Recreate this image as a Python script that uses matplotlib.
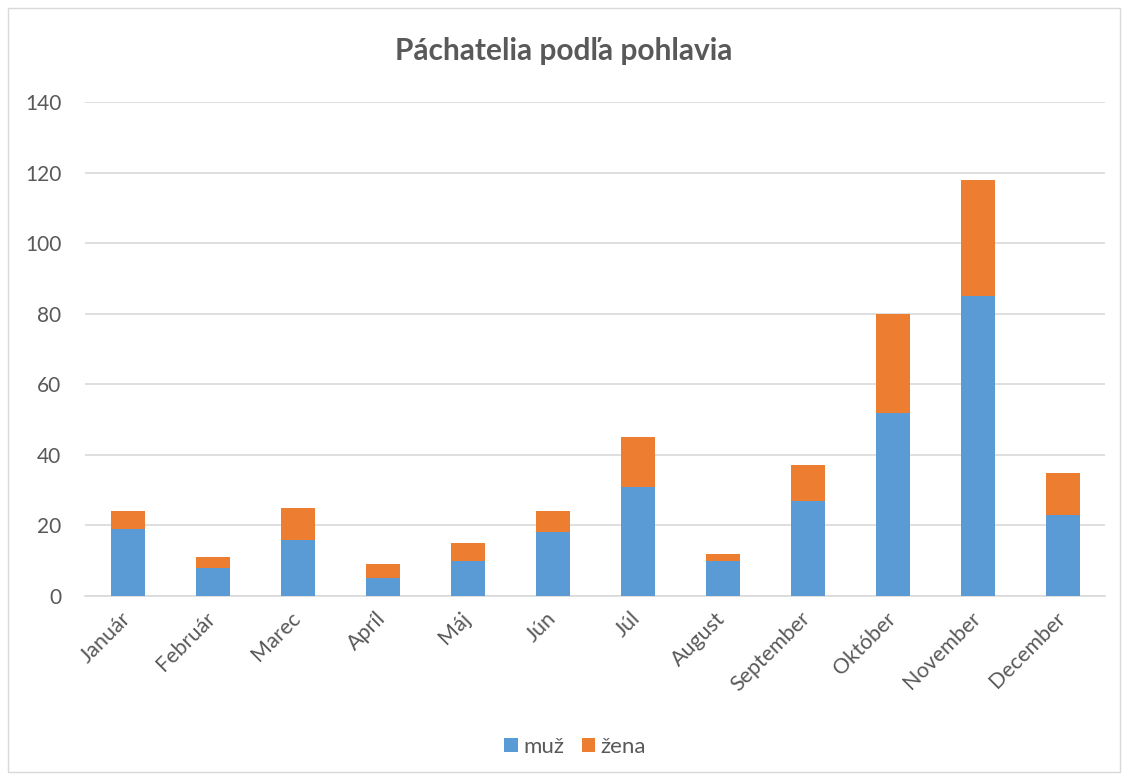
import matplotlib.pyplot as plt
from matplotlib.patches import Rectangle
import numpy as np

# data
mesiace = ['Január', 'Február', 'Marec', 'Apríl', 'Máj', 'Jún', 'Júl', 'August',
           'September', 'Október', 'November', 'December']
muz = [19, 8, 16, 5, 10, 18, 31, 10, 27, 52, 85, 23]
zena = [5, 3, 9, 4, 5, 6, 14, 2, 10, 28, 33, 12]

plt.rcParams['font.family'] = ['Lato', 'DejaVu Sans']
gray = '#595959'

fig = plt.figure(figsize=(11.28, 7.8), dpi=100)
ax = fig.add_axes([85 / 1128, 184 / 780, 1020 / 1128, 494 / 780])

x = np.arange(len(mesiace))
ax.bar(x, muz, width=0.4, color='#5B9BD5', label='muž', zorder=3)
ax.bar(x, zena, width=0.4, bottom=muz, color='#ED7D31', label='žena', zorder=3)

ax.set_xlim(-0.5, len(mesiace) - 0.5)
ax.set_ylim(0, 140)
ax.set_yticks(range(0, 141, 20))
ax.grid(axis='y', color='#d9d9d9', linewidth=1.2, zorder=0)
for s in ['top', 'right', 'left']:
    ax.spines[s].set_visible(False)
ax.spines['bottom'].set_color('#d9d9d9')
ax.spines['bottom'].set_linewidth(1.2)
ax.tick_params(length=0, colors=gray)
ax.tick_params(axis='y', pad=17, labelsize=15)
ax.tick_params(axis='x', pad=14, labelsize=15.5)
ax.set_xticks(x)
ax.set_xticklabels(mesiace, rotation=45, ha='right', va='center',
                   rotation_mode='anchor')

fig.text(0.5, 0.935, 'Páchatelia podľa pohlavia', ha='center', va='center',
         fontsize=21.5, fontweight='bold', color=gray)

fig.legend(loc='center', bbox_to_anchor=(0.51, 0.042), ncol=2, frameon=False,
           fontsize=16, handlelength=0.6, handleheight=0.6, columnspacing=0.8,
           handletextpad=0.25, labelcolor=gray)

fig.patches.append(Rectangle((8 / 1128, 8 / 780), 1112 / 1128, 764 / 780,
                             transform=fig.transFigure, fill=False,
                             edgecolor='#d9d9d9', linewidth=1))

fig.savefig('out.png', dpi=100)
